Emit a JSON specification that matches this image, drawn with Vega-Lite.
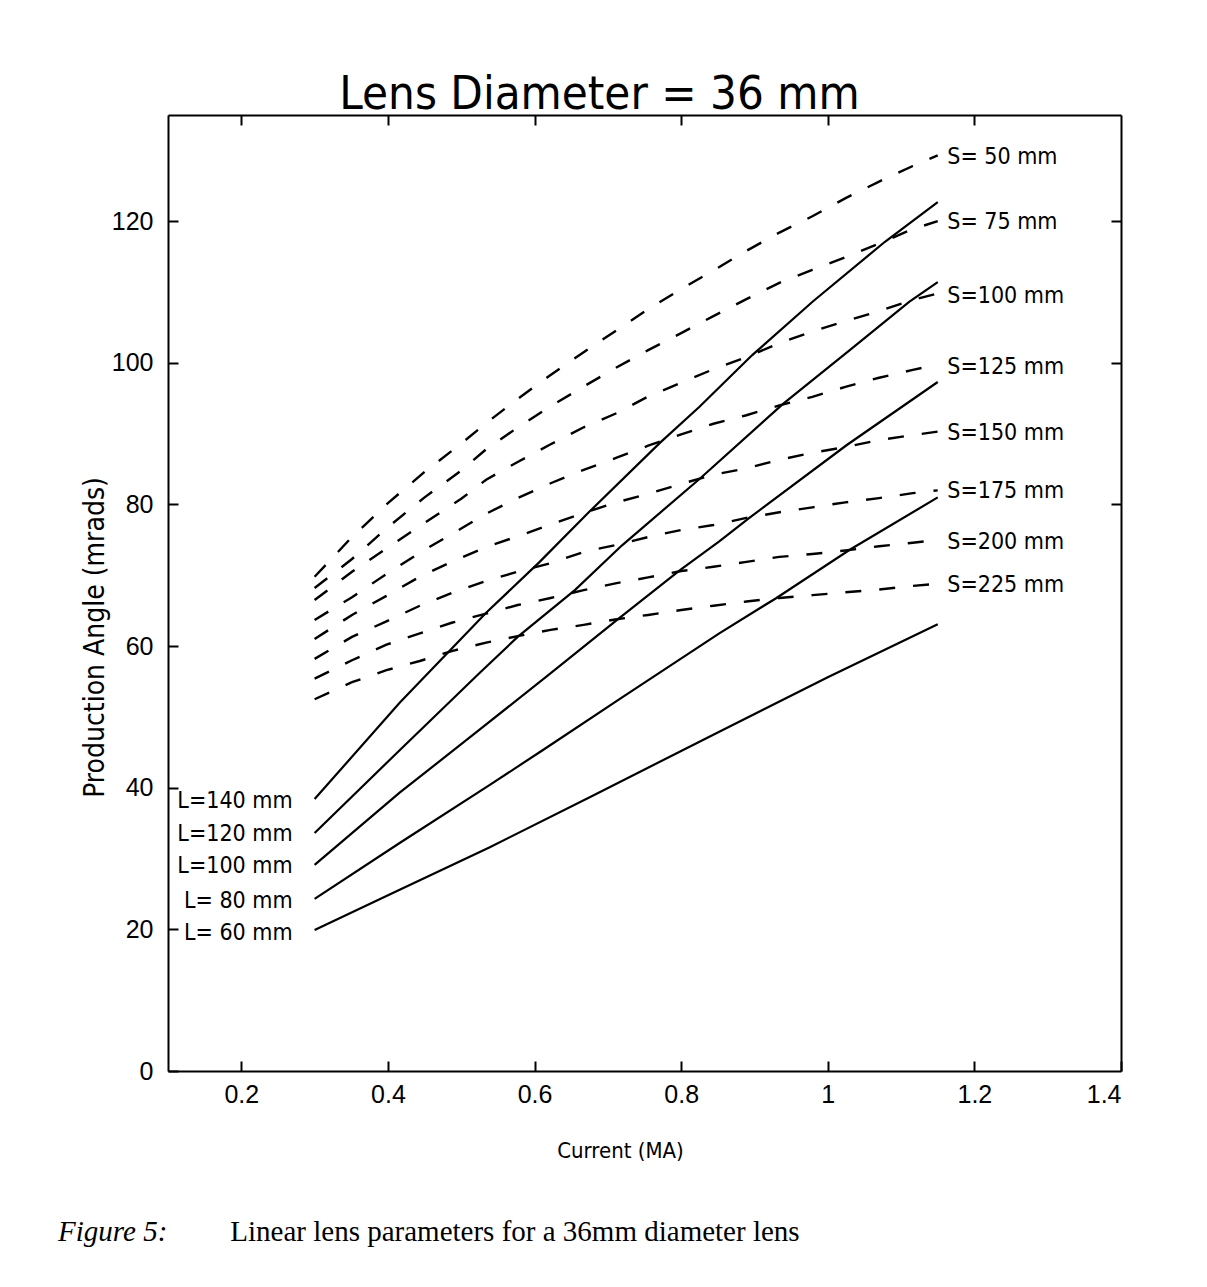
{
  "$schema": "https://vega.github.io/schema/vega-lite/v6.json",
  "width": 953,
  "height": 956,
  "autosize": {"type": "none"},
  "padding": {"left": 168, "top": 115, "right": 86, "bottom": 216},
  "background": "white",
  "title": {
    "text": "Lens Diameter = 36 mm",
    "font": "DejaVu Sans Condensed, DejaVu Sans, sans-serif",
    "fontSize": 47,
    "fontWeight": "normal",
    "color": "black",
    "anchor": "middle",
    "dx": -45,
    "offset": -42,
    "baseline": "alphabetic"
  },
  "config": {
    "view": {"stroke": null},
    "axis": {
      "grid": false,
      "domainColor": "black",
      "domainWidth": 2,
      "tickColor": "black",
      "tickWidth": 2,
      "labelColor": "black",
      "titleColor": "black",
      "labelFont": "Liberation Sans Narrow, Liberation Sans, Arial, sans-serif",
      "labelFontSize": 25,
      "titleFont": "DejaVu Sans Condensed, DejaVu Sans, sans-serif",
      "titleFontWeight": "normal"
    }
  },
  "datasets": {
    "curves": [
      {"c":"S50","k":"dash","x":0.3,"y":69.8},{"c":"S50","k":"dash","x":0.35,"y":75.3},{"c":"S50","k":"dash","x":0.4,"y":80.2},{"c":"S50","k":"dash","x":0.45,"y":84.6},{"c":"S50","k":"dash","x":0.5,"y":88.6},{"c":"S50","k":"dash","x":0.533,"y":91.4},{"c":"S50","k":"dash","x":0.573,"y":94.6},{"c":"S50","k":"dash","x":0.618,"y":98.0},{"c":"S50","k":"dash","x":0.664,"y":101.3},{"c":"S50","k":"dash","x":0.709,"y":104.4},{"c":"S50","k":"dash","x":0.754,"y":107.5},{"c":"S50","k":"dash","x":0.798,"y":110.3},{"c":"S50","k":"dash","x":0.845,"y":113.1},{"c":"S50","k":"dash","x":0.887,"y":115.7},{"c":"S50","k":"dash","x":0.934,"y":118.4},{"c":"S50","k":"dash","x":0.979,"y":120.7},{"c":"S50","k":"dash","x":1.025,"y":123.3},{"c":"S50","k":"dash","x":1.07,"y":125.6},{"c":"S50","k":"dash","x":1.116,"y":127.8},{"c":"S50","k":"dash","x":1.15,"y":129.3},
      {"c":"S75","k":"dash","x":0.3,"y":68.2},{"c":"S75","k":"dash","x":0.351,"y":72.3},{"c":"S75","k":"dash","x":0.4,"y":76.8},{"c":"S75","k":"dash","x":0.45,"y":81.0},{"c":"S75","k":"dash","x":0.5,"y":84.8},{"c":"S75","k":"dash","x":0.534,"y":87.8},{"c":"S75","k":"dash","x":0.576,"y":90.8},{"c":"S75","k":"dash","x":0.621,"y":93.8},{"c":"S75","k":"dash","x":0.666,"y":96.6},{"c":"S75","k":"dash","x":0.711,"y":99.3},{"c":"S75","k":"dash","x":0.755,"y":101.8},{"c":"S75","k":"dash","x":0.8,"y":104.2},{"c":"S75","k":"dash","x":0.844,"y":106.6},{"c":"S75","k":"dash","x":0.889,"y":109.0},{"c":"S75","k":"dash","x":0.934,"y":111.3},{"c":"S75","k":"dash","x":0.978,"y":113.1},{"c":"S75","k":"dash","x":1.024,"y":114.9},{"c":"S75","k":"dash","x":1.069,"y":116.8},{"c":"S75","k":"dash","x":1.116,"y":118.9},{"c":"S75","k":"dash","x":1.15,"y":120.0},
      {"c":"S100","k":"dash","x":0.3,"y":66.5},{"c":"S100","k":"dash","x":0.351,"y":70.5},{"c":"S100","k":"dash","x":0.398,"y":73.8},{"c":"S100","k":"dash","x":0.45,"y":77.4},{"c":"S100","k":"dash","x":0.5,"y":80.8},{"c":"S100","k":"dash","x":0.534,"y":83.5},{"c":"S100","k":"dash","x":0.577,"y":86.0},{"c":"S100","k":"dash","x":0.622,"y":88.5},{"c":"S100","k":"dash","x":0.667,"y":90.9},{"c":"S100","k":"dash","x":0.712,"y":92.9},{"c":"S100","k":"dash","x":0.754,"y":95.2},{"c":"S100","k":"dash","x":0.8,"y":97.2},{"c":"S100","k":"dash","x":0.844,"y":99.1},{"c":"S100","k":"dash","x":0.889,"y":100.8},{"c":"S100","k":"dash","x":0.934,"y":102.8},{"c":"S100","k":"dash","x":0.978,"y":104.4},{"c":"S100","k":"dash","x":1.024,"y":105.9},{"c":"S100","k":"dash","x":1.07,"y":107.3},{"c":"S100","k":"dash","x":1.116,"y":108.9},{"c":"S100","k":"dash","x":1.15,"y":109.8},
      {"c":"S125","k":"dash","x":0.3,"y":63.7},{"c":"S125","k":"dash","x":0.351,"y":66.9},{"c":"S125","k":"dash","x":0.398,"y":70.2},{"c":"S125","k":"dash","x":0.45,"y":73.6},{"c":"S125","k":"dash","x":0.5,"y":76.6},{"c":"S125","k":"dash","x":0.534,"y":78.7},{"c":"S125","k":"dash","x":0.577,"y":80.9},{"c":"S125","k":"dash","x":0.622,"y":83.0},{"c":"S125","k":"dash","x":0.667,"y":84.9},{"c":"S125","k":"dash","x":0.712,"y":86.6},{"c":"S125","k":"dash","x":0.755,"y":88.3},{"c":"S125","k":"dash","x":0.8,"y":89.9},{"c":"S125","k":"dash","x":0.844,"y":91.4},{"c":"S125","k":"dash","x":0.889,"y":92.6},{"c":"S125","k":"dash","x":0.934,"y":94.0},{"c":"S125","k":"dash","x":0.979,"y":95.2},{"c":"S125","k":"dash","x":1.024,"y":96.6},{"c":"S125","k":"dash","x":1.07,"y":97.9},{"c":"S125","k":"dash","x":1.116,"y":99.0},{"c":"S125","k":"dash","x":1.15,"y":99.8},
      {"c":"S150","k":"dash","x":0.3,"y":61.0},{"c":"S150","k":"dash","x":0.351,"y":64.4},{"c":"S150","k":"dash","x":0.398,"y":67.1},{"c":"S150","k":"dash","x":0.4435,"y":69.8},{"c":"S150","k":"dash","x":0.487,"y":71.9},{"c":"S150","k":"dash","x":0.534,"y":74.0},{"c":"S150","k":"dash","x":0.577,"y":75.5},{"c":"S150","k":"dash","x":0.622,"y":77.2},{"c":"S150","k":"dash","x":0.667,"y":78.8},{"c":"S150","k":"dash","x":0.712,"y":80.3},{"c":"S150","k":"dash","x":0.755,"y":81.5},{"c":"S150","k":"dash","x":0.8,"y":82.9},{"c":"S150","k":"dash","x":0.844,"y":84.2},{"c":"S150","k":"dash","x":0.889,"y":85.1},{"c":"S150","k":"dash","x":0.934,"y":86.3},{"c":"S150","k":"dash","x":0.979,"y":87.3},{"c":"S150","k":"dash","x":1.024,"y":88.1},{"c":"S150","k":"dash","x":1.07,"y":89.1},{"c":"S150","k":"dash","x":1.116,"y":89.8},{"c":"S150","k":"dash","x":1.15,"y":90.3},
      {"c":"S175","k":"dash","x":0.3,"y":58.2},{"c":"S175","k":"dash","x":0.351,"y":61.3},{"c":"S175","k":"dash","x":0.398,"y":63.5},{"c":"S175","k":"dash","x":0.4435,"y":65.7},{"c":"S175","k":"dash","x":0.487,"y":67.5},{"c":"S175","k":"dash","x":0.534,"y":69.2},{"c":"S175","k":"dash","x":0.577,"y":70.5},{"c":"S175","k":"dash","x":0.622,"y":71.7},{"c":"S175","k":"dash","x":0.667,"y":73.3},{"c":"S175","k":"dash","x":0.712,"y":74.3},{"c":"S175","k":"dash","x":0.755,"y":75.4},{"c":"S175","k":"dash","x":0.8,"y":76.4},{"c":"S175","k":"dash","x":0.844,"y":77.1},{"c":"S175","k":"dash","x":0.889,"y":78.1},{"c":"S175","k":"dash","x":0.934,"y":78.9},{"c":"S175","k":"dash","x":0.979,"y":79.6},{"c":"S175","k":"dash","x":1.024,"y":80.3},{"c":"S175","k":"dash","x":1.07,"y":80.9},{"c":"S175","k":"dash","x":1.116,"y":81.6},{"c":"S175","k":"dash","x":1.15,"y":82.0},
      {"c":"S200","k":"dash","x":0.3,"y":55.4},{"c":"S200","k":"dash","x":0.351,"y":58.0},{"c":"S200","k":"dash","x":0.398,"y":60.2},{"c":"S200","k":"dash","x":0.4435,"y":61.8},{"c":"S200","k":"dash","x":0.487,"y":63.3},{"c":"S200","k":"dash","x":0.534,"y":64.6},{"c":"S200","k":"dash","x":0.577,"y":65.8},{"c":"S200","k":"dash","x":0.622,"y":66.8},{"c":"S200","k":"dash","x":0.667,"y":67.9},{"c":"S200","k":"dash","x":0.712,"y":68.9},{"c":"S200","k":"dash","x":0.755,"y":69.7},{"c":"S200","k":"dash","x":0.8,"y":70.6},{"c":"S200","k":"dash","x":0.844,"y":71.2},{"c":"S200","k":"dash","x":0.889,"y":71.9},{"c":"S200","k":"dash","x":0.934,"y":72.6},{"c":"S200","k":"dash","x":0.979,"y":73.0},{"c":"S200","k":"dash","x":1.024,"y":73.5},{"c":"S200","k":"dash","x":1.07,"y":74.1},{"c":"S200","k":"dash","x":1.116,"y":74.6},{"c":"S200","k":"dash","x":1.15,"y":75.0},
      {"c":"S225","k":"dash","x":0.3,"y":52.5},{"c":"S225","k":"dash","x":0.351,"y":54.9},{"c":"S225","k":"dash","x":0.398,"y":56.6},{"c":"S225","k":"dash","x":0.4435,"y":57.9},{"c":"S225","k":"dash","x":0.487,"y":59.3},{"c":"S225","k":"dash","x":0.534,"y":60.5},{"c":"S225","k":"dash","x":0.577,"y":61.4},{"c":"S225","k":"dash","x":0.622,"y":62.3},{"c":"S225","k":"dash","x":0.667,"y":63.0},{"c":"S225","k":"dash","x":0.712,"y":63.8},{"c":"S225","k":"dash","x":0.755,"y":64.4},{"c":"S225","k":"dash","x":0.8,"y":65.1},{"c":"S225","k":"dash","x":0.844,"y":65.7},{"c":"S225","k":"dash","x":0.889,"y":66.3},{"c":"S225","k":"dash","x":0.934,"y":66.8},{"c":"S225","k":"dash","x":0.979,"y":67.2},{"c":"S225","k":"dash","x":1.024,"y":67.6},{"c":"S225","k":"dash","x":1.07,"y":68.0},{"c":"S225","k":"dash","x":1.116,"y":68.5},{"c":"S225","k":"dash","x":1.15,"y":68.8},
      {"c":"L140","k":"solid","x":0.3,"y":38.4},{"c":"L140","k":"solid","x":0.416,"y":52.0},{"c":"L140","k":"solid","x":0.534,"y":64.7},{"c":"L140","k":"solid","x":0.607,"y":71.9},{"c":"L140","k":"solid","x":0.675,"y":79.0},{"c":"L140","k":"solid","x":0.771,"y":88.7},{"c":"L140","k":"solid","x":0.825,"y":93.8},{"c":"L140","k":"solid","x":0.897,"y":101.1},{"c":"L140","k":"solid","x":0.98,"y":108.7},{"c":"L140","k":"solid","x":1.078,"y":117.1},{"c":"L140","k":"solid","x":1.15,"y":122.7},
      {"c":"L120","k":"solid","x":0.3,"y":33.6},{"c":"L120","k":"solid","x":0.416,"y":45.3},{"c":"L120","k":"solid","x":0.525,"y":56.2},{"c":"L120","k":"solid","x":0.577,"y":61.3},{"c":"L120","k":"solid","x":0.655,"y":67.9},{"c":"L120","k":"solid","x":0.719,"y":74.2},{"c":"L120","k":"solid","x":0.825,"y":83.6},{"c":"L120","k":"solid","x":0.939,"y":94.2},{"c":"L120","k":"solid","x":1.03,"y":101.8},{"c":"L120","k":"solid","x":1.111,"y":108.6},{"c":"L120","k":"solid","x":1.15,"y":111.4},
      {"c":"L100","k":"solid","x":0.3,"y":29.1},{"c":"L100","k":"solid","x":0.416,"y":39.3},{"c":"L100","k":"solid","x":0.525,"y":48.2},{"c":"L100","k":"solid","x":0.62,"y":56.0},{"c":"L100","k":"solid","x":0.716,"y":64.0},{"c":"L100","k":"solid","x":0.798,"y":70.7},{"c":"L100","k":"solid","x":0.852,"y":74.8},{"c":"L100","k":"solid","x":0.893,"y":78.1},{"c":"L100","k":"solid","x":1.026,"y":88.4},{"c":"L100","k":"solid","x":1.15,"y":97.3},
      {"c":"L80","k":"solid","x":0.3,"y":24.3},{"c":"L80","k":"solid","x":0.416,"y":32.2},{"c":"L80","k":"solid","x":0.539,"y":40.4},{"c":"L80","k":"solid","x":0.611,"y":45.3},{"c":"L80","k":"solid","x":0.72,"y":52.8},{"c":"L80","k":"solid","x":0.852,"y":61.8},{"c":"L80","k":"solid","x":0.93,"y":66.8},{"c":"L80","k":"solid","x":1.03,"y":73.6},{"c":"L80","k":"solid","x":1.15,"y":81.0},
      {"c":"L60","k":"solid","x":0.3,"y":19.9},{"c":"L60","k":"solid","x":0.416,"y":25.6},{"c":"L60","k":"solid","x":0.539,"y":31.6},{"c":"L60","k":"solid","x":0.68,"y":38.9},{"c":"L60","k":"solid","x":0.802,"y":45.3},{"c":"L60","k":"solid","x":0.852,"y":47.9},{"c":"L60","k":"solid","x":1.0,"y":55.6},{"c":"L60","k":"solid","x":1.15,"y":63.1}
    ],
    "labels": [
      {"t":"S= 50 mm","side":"right","x":1.163,"y":129.1},
      {"t":"S= 75 mm","side":"right","x":1.163,"y":119.9},
      {"t":"S=100 mm","side":"right","x":1.163,"y":109.4},
      {"t":"S=125 mm","side":"right","x":1.163,"y":99.4},
      {"t":"S=150 mm","side":"right","x":1.163,"y":90.1},
      {"t":"S=175 mm","side":"right","x":1.163,"y":81.9},
      {"t":"S=200 mm","side":"right","x":1.163,"y":74.7},
      {"t":"S=225 mm","side":"right","x":1.163,"y":68.6},
      {"t":"L=140 mm","side":"left","x":0.27,"y":38.1},
      {"t":"L=120 mm","side":"left","x":0.27,"y":33.5},
      {"t":"L=100 mm","side":"left","x":0.27,"y":28.9},
      {"t":"L= 80 mm","side":"left","x":0.27,"y":24.0},
      {"t":"L= 60 mm","side":"left","x":0.27,"y":19.5}
    ],
    "caption": [
      {"t":"Figure 5:","style":"italic","x":-0.05,"y":-22.7},
      {"t":"Linear lens parameters for a 36mm diameter lens","style":"normal","x":0.185,"y":-22.7}
    ]
  },
  "resolve": {"axis": {"x": "independent", "y": "independent"}},
  "layer": [
    {
      "data": {"name": "curves"},
      "transform": [{"filter": "datum.k === 'dash'"}],
      "mark": {"type": "line", "color": "black", "strokeWidth": 2.4, "strokeDash": [16, 18], "clip": false},
      "encoding": {
        "x": {"field": "x", "type": "quantitative", "scale": {"domain": [0.1, 1.4], "nice": false, "zero": false},
          "axis": {"orient": "bottom", "values": [0.2, 0.4, 0.6, 0.8, 1.0, 1.2, 1.4], "format": "~g", "tickSize": -10, "labelPadding": 21,
            "title": "Current (MA)", "titleFontSize": 22, "titleX": 452, "titleY": 79, "titleBaseline": "middle"}},
        "y": {"field": "y", "type": "quantitative", "scale": {"domain": [0, 135], "nice": false, "zero": true},
          "axis": {"orient": "left", "values": [0, 20, 40, 60, 80, 100, 120], "tickSize": -10, "labelPadding": 25,
            "title": "Production Angle (mrads)", "titleFontSize": 28, "titleX": -73, "titleY": 522, "titleBaseline": "middle", "titleAngle": -90}},
        "detail": {"field": "c", "type": "nominal"}
      }
    },
    {
      "data": {"name": "curves"},
      "transform": [{"filter": "datum.k === 'solid'"}],
      "mark": {"type": "line", "color": "black", "strokeWidth": 2.2},
      "encoding": {
        "x": {"field": "x", "type": "quantitative",
          "axis": {"orient": "top", "values": [0.2, 0.4, 0.6, 0.8, 1.0, 1.2], "tickSize": -10, "labels": false, "title": null}},
        "y": {"field": "y", "type": "quantitative",
          "axis": {"orient": "right", "values": [80, 100, 120], "tickSize": -10, "labels": false, "title": null}},
        "detail": {"field": "c", "type": "nominal"}
      }
    },
    {
      "data": {"name": "labels"},
      "transform": [{"filter": "datum.side === 'right'"}],
      "mark": {"type": "text", "align": "left", "baseline": "middle", "font": "DejaVu Sans Condensed, DejaVu Sans, sans-serif", "fontSize": 23, "color": "black"},
      "encoding": {
        "x": {"field": "x", "type": "quantitative", "axis": null},
        "y": {"field": "y", "type": "quantitative", "axis": null},
        "text": {"field": "t"}
      }
    },
    {
      "data": {"name": "labels"},
      "transform": [{"filter": "datum.side === 'left'"}],
      "mark": {"type": "text", "align": "right", "baseline": "middle", "font": "DejaVu Sans Condensed, DejaVu Sans, sans-serif", "fontSize": 23, "color": "black"},
      "encoding": {
        "x": {"field": "x", "type": "quantitative", "axis": null},
        "y": {"field": "y", "type": "quantitative", "axis": null},
        "text": {"field": "t"}
      }
    },
    {
      "data": {"name": "caption"},
      "transform": [{"filter": "datum.style === 'italic'"}],
      "mark": {"type": "text", "align": "left", "baseline": "middle", "font": "Liberation Serif, serif", "fontSize": 29, "fontStyle": "italic", "color": "black"},
      "encoding": {
        "x": {"field": "x", "type": "quantitative", "axis": null},
        "y": {"field": "y", "type": "quantitative", "axis": null},
        "text": {"field": "t"}
      }
    },
    {
      "data": {"name": "caption"},
      "transform": [{"filter": "datum.style === 'normal'"}],
      "mark": {"type": "text", "align": "left", "baseline": "middle", "font": "Liberation Serif, serif", "fontSize": 29, "color": "black"},
      "encoding": {
        "x": {"field": "x", "type": "quantitative", "axis": null},
        "y": {"field": "y", "type": "quantitative", "axis": null},
        "text": {"field": "t"}
      }
    }
  ]
}
